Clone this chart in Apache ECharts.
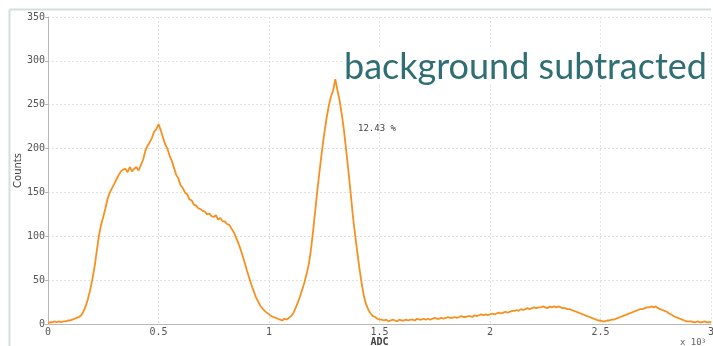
<!DOCTYPE html>
<html>
<head>
<meta charset="utf-8">
<script src="https://cdn.jsdelivr.net/npm/echarts@6/dist/echarts.min.js"></script>
<style>
  html, body { margin: 0; padding: 0; background: #fff; }
  #chart { width: 713px; height: 346px; }
</style>
</head>
<body>
<div id="chart"></div>
<script>
// ADC spectrum after background subtraction, one bin every 0.01 (x 10^3 ADC)
const binStart = 0;
const binWidth = 0.01;

const counts = [
  // 0.00 - 0.10
  1, 2, 2, 3, 2, 3, 2, 3, 3, 4, 4,
  // 0.11 - 0.20
  5, 6, 7, 8, 10, 14, 20, 28, 38, 50,
  // 0.21 - 0.30
  64, 82, 100, 113, 122, 132, 143, 150, 155, 160,
  // 0.31 - 0.40
  165, 170, 174, 176, 177, 173, 179, 174, 177, 179,
  // 0.41 - 0.50
  175, 181, 187, 197, 203, 207, 212, 219, 222, 228,
  // 0.51 - 0.60
  221, 213, 205, 200, 192, 186, 178, 170, 166, 158,
  // 0.61 - 0.70
  155, 150, 148, 142, 141, 136, 135, 132, 131, 129,
  // 0.71 - 0.80
  128, 125, 126, 123, 122, 124, 119, 121, 117, 117,
  // 0.81 - 0.90
  114, 113, 109, 105, 99, 93, 86, 78, 70, 61,
  // 0.91 - 1.00
  53, 45, 38, 31, 26, 21, 18, 15, 13, 11,
  // 1.01 - 1.10
  9, 8, 7, 6, 5, 4, 6, 5, 7, 9,
  // 1.11 - 1.20
  12, 18, 24, 31, 39, 47, 57, 68, 85, 107,
  // 1.21 - 1.30
  131, 155, 177, 198, 217, 234, 248, 259, 266, 279,
  // 1.31 - 1.40
  266, 254, 238, 219, 196, 173, 148, 122, 101, 81,
  // 1.41 - 1.50
  62, 45, 31, 22, 16, 12, 9, 8, 6, 5,
  // 1.51 - 1.60
  5, 4, 5, 3, 4, 5, 4, 3, 5, 4,
  // 1.61 - 1.70
  4, 5, 4, 5, 5, 4, 6, 5, 5, 6,
  // 1.71 - 1.80
  5, 6, 5, 6, 7, 6, 6, 7, 6, 7,
  // 1.81 - 1.90
  8, 7, 7, 8, 7, 8, 9, 8, 8, 9,
  // 1.91 - 2.00
  9, 8, 10, 9, 10, 11, 10, 11, 10, 11,
  // 2.01 - 2.10
  12, 11, 12, 13, 12, 13, 14, 13, 14, 15,
  // 2.11 - 2.20
  15, 16, 15, 17, 16, 17, 18, 17, 18, 19,
  // 2.21 - 2.30
  18, 19, 19, 20, 19, 18, 20, 19, 20, 19,
  // 2.31 - 2.40
  20, 19, 18, 18, 17, 17, 16, 15, 14, 13,
  // 2.41 - 2.50
  12, 11, 10, 9, 8, 7, 6, 5, 4, 4,
  // 2.51 - 2.60
  3, 3, 4, 4, 5, 5, 6, 7, 8, 9,
  // 2.61 - 2.70
  10, 11, 12, 13, 14, 15, 16, 17, 17, 18,
  // 2.71 - 2.80
  19, 19, 20, 19, 20, 18, 17, 16, 15, 14,
  // 2.81 - 2.90
  12, 11, 9, 8, 7, 6, 5, 4, 3, 3,
  // 2.91 - 3.00
  3, 2, 2, 3, 2, 2, 3, 2, 2, 2
];

const xTicks = [0, 0.5, 1, 1.5, 2, 2.5, 3];
const yTicks = [0, 50, 100, 150, 200, 250, 300, 350];
const peakFraction = '12.43 %';
const banner = 'background subtracted';

const series = counts.map((c, i) => [+(binStart + i * binWidth).toFixed(2), c]);

const mono = 'DejaVu Sans Mono';
const chart = echarts.init(document.getElementById('chart'), null, { renderer: 'canvas' });

chart.setOption({
  animation: false,
  backgroundColor: '#ffffff',
  grid: { left: 48, right: 2, top: 17, bottom: 22, containLabel: false, outerBoundsMode: 'none' },
  xAxis: {
    type: 'value',
    min: xTicks[0],
    max: xTicks[xTicks.length - 1],
    interval: 0.5,
    name: 'ADC',
    nameLocation: 'middle',
    nameGap: 13,
    nameMoveOverlap: false,
    nameTextStyle: { fontFamily: mono, fontSize: 10, color: '#444', fontWeight: 'bold',
                     verticalAlign: 'top' },
    axisLine: { lineStyle: { color: '#b8b8b8', width: 1 } },
    axisTick: { show: false },
    axisLabel: { fontFamily: mono, fontSize: 10, color: '#555', margin: 3,
                 formatter: v => String(v) },
    splitLine: { show: true, lineStyle: { color: '#e2e2e2', type: [2, 2], width: 1 } }
  },
  yAxis: {
    type: 'value',
    min: yTicks[0],
    max: yTicks[yTicks.length - 1],
    interval: 50,
    name: 'Counts',
    nameLocation: 'middle',
    nameGap: 25,
    nameMoveOverlap: false,
    nameTextStyle: { fontFamily: 'DejaVu Sans', fontSize: 10, color: '#444' },
    axisLine: { show: true, lineStyle: { color: '#b8b8b8', width: 1 } },
    axisTick: { show: true, inside: false, length: 3, lineStyle: { color: '#b8b8b8' } },
    axisLabel: { fontFamily: mono, fontSize: 10, color: '#555', margin: 3 },
    splitLine: { show: true, lineStyle: { color: '#e2e2e2', type: [2, 2], width: 1 } }
  },
  series: [{
    type: 'line',
    data: series,
    showSymbol: false,
    smooth: false,
    lineStyle: { color: '#f7901e', width: 1.8 },
    z: 5
  }],
  graphic: [
    // frame around the panel
    { type: 'line', shape: { x1: 9.5, y1: 9.5, x2: 711, y2: 9.5 },
      style: { stroke: '#d4dede', lineWidth: 2 }, silent: true, z: 100 },
    { type: 'line', shape: { x1: 9.5, y1: 9.5, x2: 9.5, y2: 346 },
      style: { stroke: '#d4dede', lineWidth: 2 }, silent: true, z: 100 },
    { type: 'text', left: 344, top: 49, z: 100,
      style: { text: banner, fontFamily: 'Lato', fontSize: 36, fill: '#2f6e73',
               backgroundColor: '#ffffff' } },
    { type: 'text', left: 358, top: 124, z: 100,
      style: { text: peakFraction, fontFamily: mono, fontSize: 9, fill: '#444' } },
    { type: 'text', left: 680, top: 338, z: 100,
      style: { rich: { b: { fontFamily: mono, fontSize: 9, fill: '#666' },
                       s: { fontFamily: mono, fontSize: 6, fill: '#666', verticalAlign: 'top' } },
               text: '{b|x 10}{s|3}' } }
  ]
});
</script>
</body>
</html>
